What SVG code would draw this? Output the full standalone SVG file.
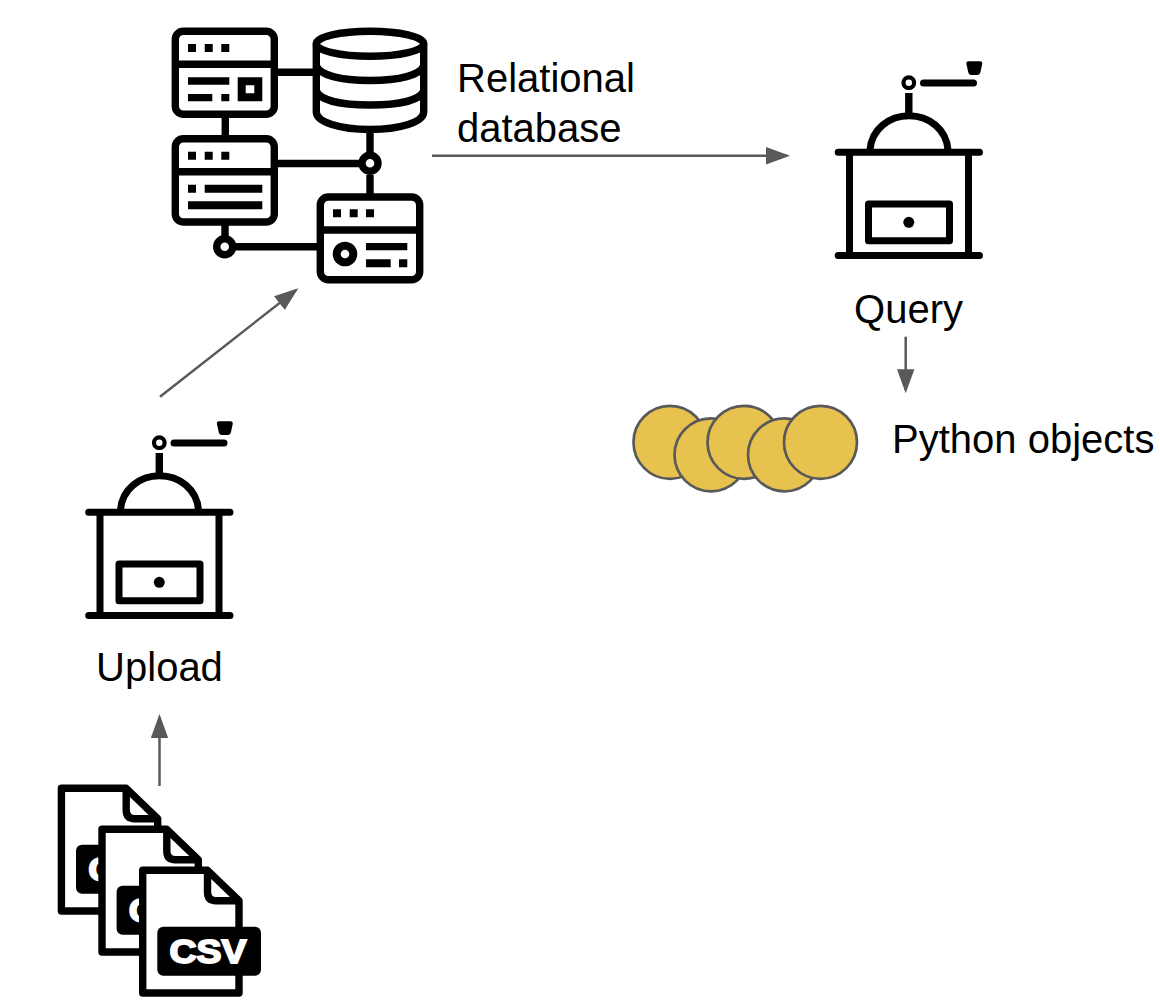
<svg xmlns="http://www.w3.org/2000/svg" width="1160" height="1004" viewBox="0 0 1160 1004">
<style>
.t{font-family:"Liberation Sans",Arial,sans-serif;font-size:40px;fill:#000}
.k{fill:none;stroke:#000;stroke-width:7.4}
.b{fill:#000}
.w{fill:#fff;stroke:#000;stroke-width:7.4;stroke-linejoin:round}
.g{fill:none;stroke:#000;stroke-width:7;stroke-linecap:round;stroke-linejoin:round}
.c{fill:#e8c24f;stroke:#595959;stroke-width:2.7}
.a{fill:none;stroke:#595959;stroke-width:2.5}
</style>
<defs>
<marker id="ah" markerUnits="userSpaceOnUse" markerWidth="26" markerHeight="20" refX="21" refY="10" orient="auto"><path d="M0 1.300L24 10L0 18.700Z" fill="#595959"/></marker>
<g id="grinder">
<path class="g" d="M88.700 512.300H230M88.700 615.500H230M100 512.300V615.500M219 512.300V615.500"/>
<path class="g" d="M120.500 510C122 489 140 475.700 159.500 475.700S197 489 198.500 510"/>
<rect class="g" x="119" y="564" width="81" height="36.700"/>
<circle class="b" cx="159.300" cy="582.300" r="5.500"/>
<path class="k" d="M159.300 453V473"/>
<circle cx="159.300" cy="442.700" r="5.300" fill="#fff" stroke="#000" stroke-width="4.200"/>
<path class="g" d="M174 443H224"/>
<path class="b" d="M219 421.300H230.500Q233 421.300 232.700 424L231 432Q230.300 435 227.500 435H222Q219.300 435 218.700 432L216.900 424Q216.600 421.300 219 421.300Z"/>
</g>
<g id="file">
<path class="w" d="M142.700 870.300H207.500L239 900.700V993H142.700Z"/>
<path class="k" d="M207.500 872V892Q207.500 900.700 216 900.700H239"/>
<rect x="157.300" y="926.700" width="103.700" height="49" rx="6" class="b"/>
<text x="208" y="963" text-anchor="middle" textLength="77" lengthAdjust="spacingAndGlyphs" font-family="Liberation Sans,Arial,sans-serif" font-weight="700" font-size="33.500" fill="#fff" stroke="#fff" stroke-width="1.800">CSV</text>
</g>
</defs>
<g id="connectors">
<path class="a" d="M432 155.700H787" marker-end="url(#ah)"/>
<path class="a" d="M160 396.700L295.900 290.200" marker-end="url(#ah)"/>
<path class="a" d="M159.500 786V717" marker-end="url(#ah)"/>
<path class="a" d="M905.700 336.700V390.300" marker-end="url(#ah)"/>
</g>
<g id="database-icon">
<path class="k" d="M278 72.300H316M225.300 117V135M278 163.500H360M370 133V152M370 175V194M225 225V236M236 246.700H317"/>
<rect class="k" x="175.300" y="31.300" width="99" height="83" rx="8"/>
<path class="k" d="M175 64.300H274"/>
<path class="b" d="M188 44h8v8h-8zM204.700 44h8v8h-8zM221.300 44h8v8h-8zM188 77.300h41.300v7.400H188zM188 94h24.300v7.300H188zM221.300 94h8v7.300h-8z"/>
<path class="b" fill-rule="evenodd" d="M237.700 77.300h24.600v24h-24.600zM245.700 85.300v8h8.600v-8z"/>
<rect class="k" x="175.300" y="138.700" width="99" height="83.300" rx="8"/>
<path class="k" d="M175 171.700H274"/>
<path class="b" d="M188 151.700h8v8h-8zM204.700 151.700h8v8h-8zM221.300 151.700h8v8h-8zM188 184.700h8v8h-8zM204.700 184.700h57.600v8h-57.600zM188 201.300h74.300v8H188z"/>
<rect class="k" x="320.300" y="197" width="99.400" height="82.700" rx="8"/>
<path class="k" d="M320 230H420"/>
<path class="b" d="M333 209.300h8v8h-8zM349.700 209.300h8v8h-8zM366 209.300h8v8h-8zM366 243h41.300v7.300H366zM366 259.300h24.700v8H366zM399 259.300h8.300v8H399z"/>
<circle class="k" cx="345" cy="254" r="8.300" style="stroke-width:8"/>
<circle class="k" cx="370" cy="163.300" r="8"/>
<circle class="k" cx="224.700" cy="246.700" r="8"/>
<ellipse class="k" cx="370" cy="43.800" rx="53.700" ry="12.500"/>
<path class="k" d="M316.300 43.800V112C316.300 122 340 129.500 370 129.500S423.700 122 423.700 112V43.800M316.300 66C320 75 340 80.500 370 80.500S420 75 423.700 66M316.300 91C320 100 340 105 370 105S420 100 423.700 91"/>
<text class="t" x="457" y="92">Relational</text>
<text class="t" x="457" y="142">database</text>
</g>
<g id="upload"><use href="#grinder"/><text class="t" x="159.500" y="681" text-anchor="middle">Upload</text></g>
<g id="query"><use href="#grinder" x="749.500" y="-360"/><text class="t" x="908.500" y="323" text-anchor="middle">Query</text></g>
<g id="csv-files"><use href="#file" x="-81.300" y="-82"/><use href="#file" x="-40.700" y="-41"/><use href="#file"/></g>
<g id="python-objects">
<circle class="c" cx="670" cy="442.300" r="36.500"/>
<circle class="c" cx="711" cy="454.800" r="36.500"/>
<circle class="c" cx="744" cy="442.300" r="36.500"/>
<circle class="c" cx="784.500" cy="454.800" r="36.500"/>
<circle class="c" cx="820.500" cy="442.300" r="36.500"/>
<text class="t" x="892" y="453">Python objects</text>
</g>
</svg>
